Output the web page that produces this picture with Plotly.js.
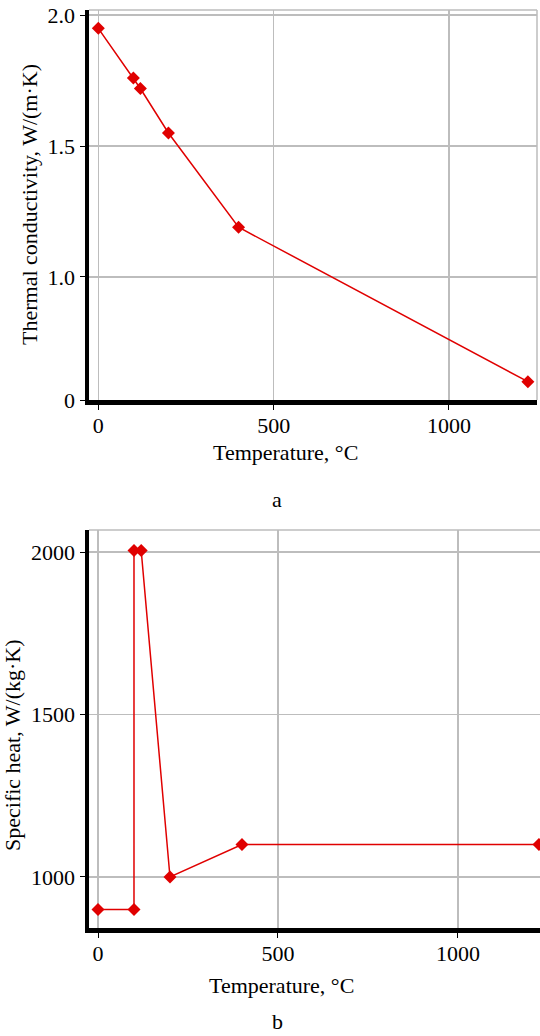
<!DOCTYPE html>
<html>
<head>
<meta charset="utf-8">
<script src="https://cdn.plot.ly/plotly-3.0.1.min.js"></script>
<style>html,body{margin:0;padding:0;background:#fff;}#chart{width:540px;height:1036px;}</style>
</head>
<body>
<div id="chart"></div>
<script>
// Panel a: thermal conductivity
const tempA = [0, 100, 120, 200, 400, 1225];
const conductivity = [1.95, 1.76, 1.72, 1.55, 1.19, 0.6];
const yTicksA = [0.53, 1.0, 1.5, 2.0];
const yTickTextA = ["0", "1.0", "1.5", "2.0"];

// Panel b: specific heat
const tempB = [0, 100, 100, 120, 200, 400, 1225];
const specificHeat = [900, 900, 2005, 2005, 1000, 1100, 1100];
const yTicksB = [1000, 1500, 2000];

const xTicks = [0, 500, 1000];

const FONT = "Liberation Serif";
const FS = 22;
const RED = "#e00000";

const traceStyle = {
  mode: "lines+markers",
  line: {color: RED, width: 1.5},
  marker: {color: RED, symbol: "diamond", size: 10},
  cliponaxis: false,
  showlegend: false
};

const data = [
  Object.assign({x: tempA, y: conductivity, xaxis: "x", yaxis: "y"}, traceStyle),
  Object.assign({x: tempB, y: specificHeat, xaxis: "x2", yaxis: "y2"}, traceStyle)
];

const axisCommon = {
  showline: true, linecolor: "#000", linewidth: 4.5,
  showgrid: true, gridcolor: "#bdbdbd", gridwidth: 1.5,
  zeroline: false,
  ticks: "outside", ticklen: 5, tickwidth: 1, tickcolor: "#000",
  tickfont: {family: FONT, size: FS, color: "#000"},
  automargin: false, fixedrange: true
};

const layout = {
  width: 540, height: 1036,
  margin: {l: 0, r: 0, t: 0, b: 0},
  paper_bgcolor: "#fff", plot_bgcolor: "#fff",
  font: {family: FONT, color: "#000"},
  xaxis: Object.assign({}, axisCommon, {
    domain: [89/540, 537/540], anchor: "y",
    range: [-26.5, 1251], tickvals: xTicks, ticklabelstandoff: -3
  }),
  yaxis: Object.assign({}, axisCommon, {
    domain: [1 - 400/1036, 1 - 10/1036], anchor: "x",
    range: [0.53, 2.02], tickvals: yTicksA, ticktext: yTickTextA
  }),
  xaxis2: Object.assign({}, axisCommon, {
    domain: [89/540, 1], anchor: "y2",
    range: [-25, 1228], tickvals: xTicks, ticklabelstandoff: -3
  }),
  yaxis2: Object.assign({}, axisCommon, {
    domain: [1 - 928/1036, 1 - 530/1036], anchor: "x2",
    range: [843, 2068], tickvals: yTicksB
  }),
  shapes: [
    {type: "line", xref: "x domain", yref: "y domain", x0: 0, x1: 1, y0: 1, y1: 1, line: {color: "#bdbdbd", width: 1.5}},
    {type: "line", xref: "x domain", yref: "y domain", x0: 1, x1: 1, y0: 0, y1: 1, line: {color: "#bdbdbd", width: 1.5}},
    {type: "line", xref: "x2 domain", yref: "y2 domain", x0: 0, x1: 1, y0: 1, y1: 1, line: {color: "#bdbdbd", width: 1.5}}
  ],
  annotations: [
    {text: "Thermal conductivity, W/(m·K)", xref: "paper", yref: "paper", x: 29/540, y: 1 - 205/1036,
     textangle: -90, showarrow: false, font: {family: FONT, size: FS, color: "#000"}, xanchor: "center", yanchor: "middle"},
    {text: "Temperature, °C", xref: "paper", yref: "paper", x: 285/540, y: 1 - 452/1036,
     showarrow: false, font: {family: FONT, size: FS, color: "#000"}, xanchor: "center", yanchor: "middle"},
    {text: "a", xref: "paper", yref: "paper", x: 277/540, y: 1 - 500/1036,
     showarrow: false, font: {family: FONT, size: FS, color: "#000"}, xanchor: "center", yanchor: "middle"},
    {text: "Specific heat, W/(kg·K)", xref: "paper", yref: "paper", x: 12/540, y: 1 - 745/1036,
     textangle: -90, showarrow: false, font: {family: FONT, size: FS, color: "#000"}, xanchor: "center", yanchor: "middle"},
    {text: "Temperature, °C", xref: "paper", yref: "paper", x: 281/540, y: 1 - 985/1036,
     showarrow: false, font: {family: FONT, size: FS, color: "#000"}, xanchor: "center", yanchor: "middle"},
    {text: "b", xref: "paper", yref: "paper", x: 277/540, y: 1 - 1021/1036,
     showarrow: false, font: {family: FONT, size: FS, color: "#000"}, xanchor: "center", yanchor: "middle"}
  ]
};

Plotly.newPlot("chart", data, layout, {displayModeBar: false, staticPlot: true});
</script>
</body>
</html>
